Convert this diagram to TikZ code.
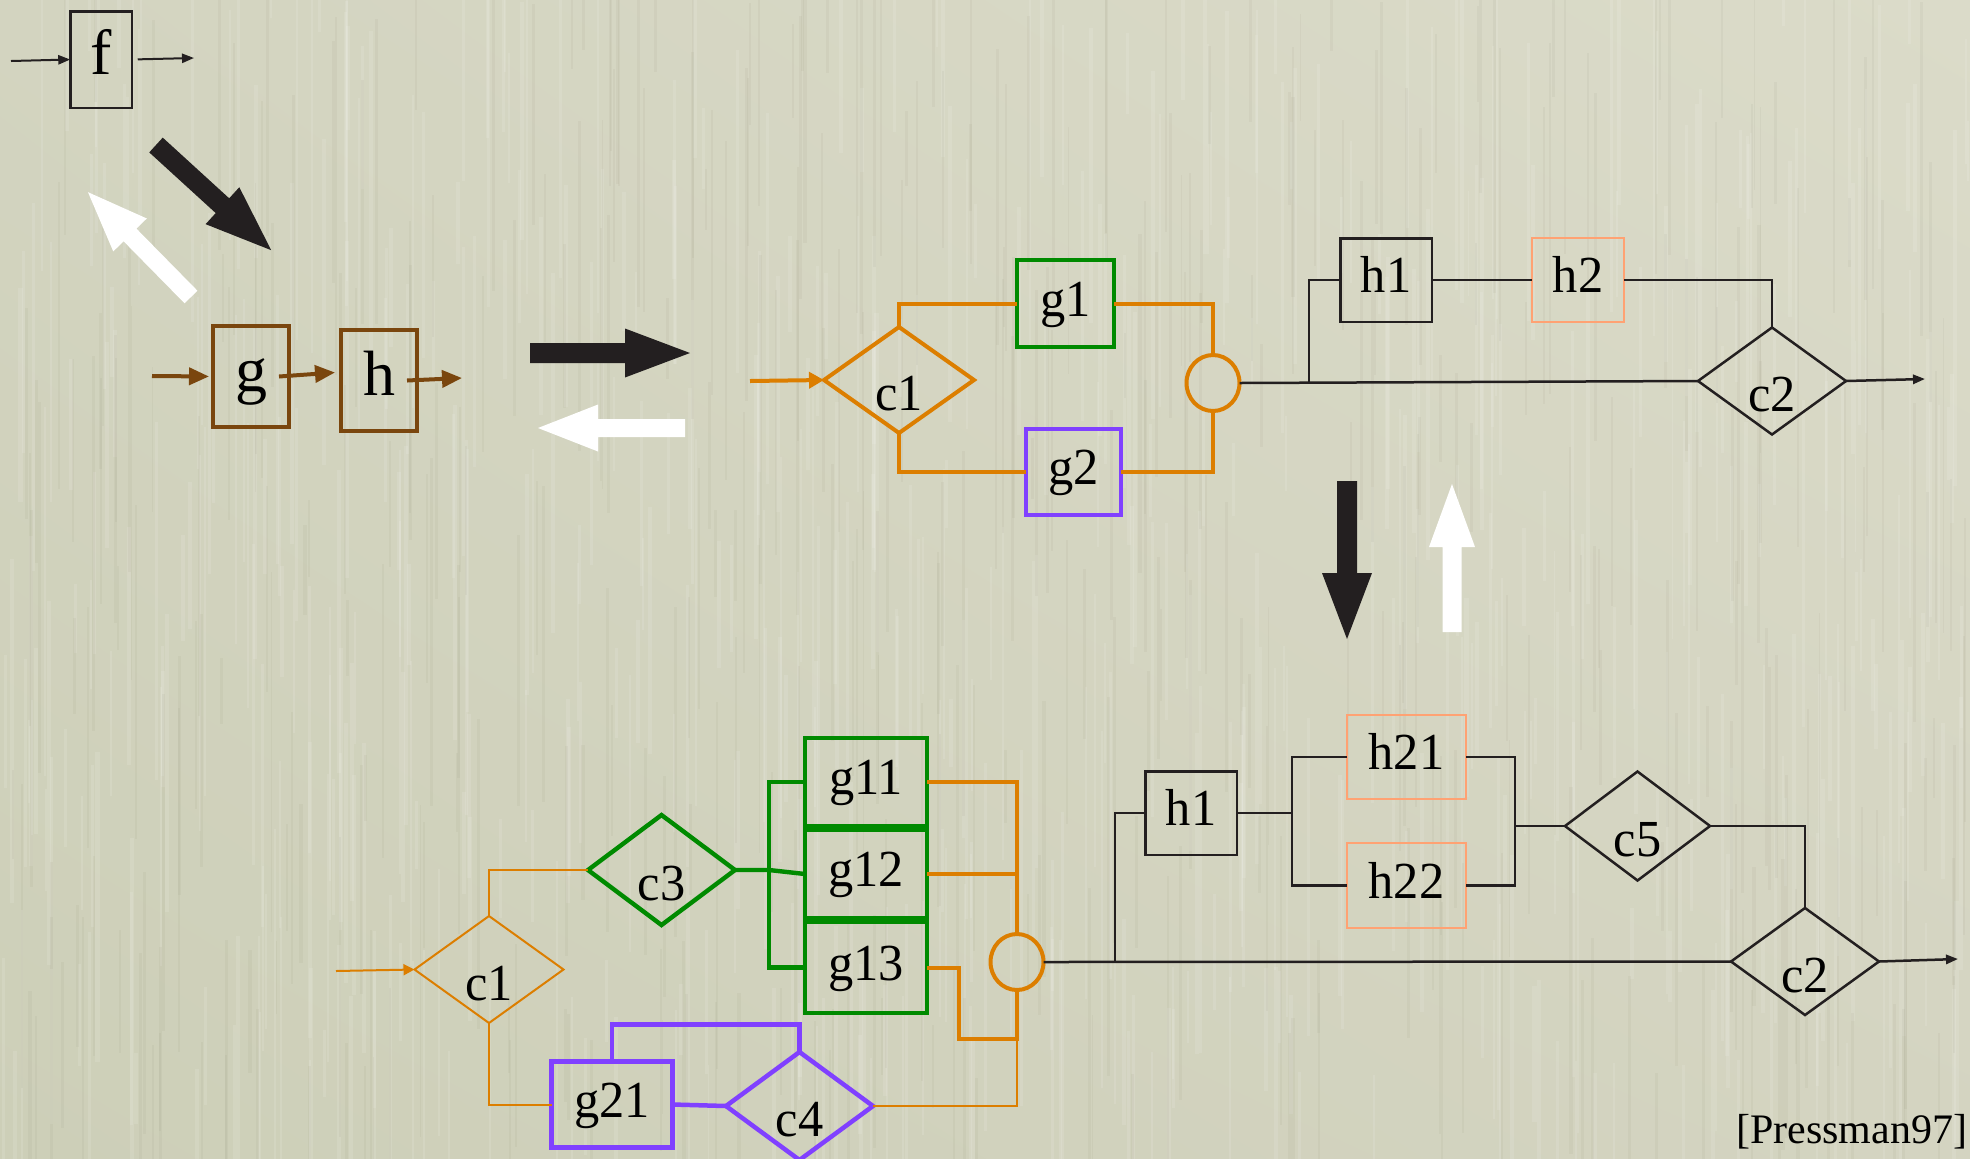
\documentclass[tikz,border=0pt]{standalone}
\usepackage{fontspec}
\setmainfont{Liberation Serif}
\newfontfamily\lblfont{Liberation Serif}[FakeStretch=0.97]
\usetikzlibrary{arrows.meta,shapes.geometric,shadings}

\definecolor{paperLL}{RGB}{205,207,184}
\definecolor{paperUL}{RGB}{211,212,192}
\definecolor{paperUR}{RGB}{219,219,201}
\definecolor{paperLR}{RGB}{212,212,193}
\definecolor{ink}{RGB}{35,31,32}
\definecolor{brn}{RGB}{122,70,14}
\definecolor{org}{RGB}{220,126,0}
\definecolor{grn}{RGB}{0,138,0}
\definecolor{prp}{RGB}{128,64,255}
\definecolor{slm}{RGB}{255,162,115}

% fat block arrow: colour, tail x, tail y, angle, length, shaft width, head width, head length
\newcommand\fatarrow[8]{%
  \begin{scope}[shift={(#2,#3)}, rotate=#4]
    \fill[#1] (0,-#6/2) -- ({#5-#8},-#6/2) -- ({#5-#8},-#7/2) -- (#5,0)
      -- ({#5-#8},#7/2) -- ({#5-#8},#6/2) -- (0,#6/2) -- cycle;
  \end{scope}}

\tikzset{
  every node/.style={inner sep=0pt, outer sep=0pt},
  bigtxt/.style={font=\fontsize{32}{32}\selectfont, text height=22.4pt, text depth=7pt},
  lbltxt/.style={font=\lblfont\fontsize{26}{26}\selectfont, text height=18.2pt, text depth=5.7pt},
  box/.style={draw, rectangle, lbltxt},
  bigbox/.style={draw, rectangle, bigtxt},
  dia/.style={draw, diamond},
  dlbl/.style={lbltxt, yshift=-9pt},
  joint/.style={draw, ellipse, minimum width=26.5pt, minimum height=28pt},
  wire/.style={ink, line width=1.25pt},
  owire/.style={org, line width=2pt},
  othin/.style={org, line width=1pt},
  gwire/.style={grn, line width=2.2pt},
  pwire/.style={prp, line width=2.25pt},
  tipblk/.style={-{Triangle[length=6pt,width=4.6pt]}},
  tipbrn/.style={-{Triangle[length=10pt,width=8.5pt]}},
  tiporg/.style={-{Triangle[length=7.5pt,width=8pt]}},
  tipothin/.style={-{Triangle[length=5.5pt,width=5.5pt]}},
}

\begin{document}
\begin{tikzpicture}[x=0.5pt, y=-0.5pt]
% ---------- textured paper ----------
\shade[lower left=paperLL, upper left=paperUL, upper right=paperUR, lower right=paperLR]
  (0,0) rectangle (1970,1158);
\useasboundingbox (0,0) rectangle (1970,1158);
\pgfmathsetseed{4242}
\begin{scope}
  \clip (0,0) rectangle (1970,1158);
  \foreach \k in {1,...,560} {
    \pgfmathsetmacro\sx{rnd*1970}
    \pgfmathsetmacro\sy{rnd*1158-80}
    \pgfmathsetmacro\sl{60+rnd*320}
    \pgfmathsetmacro\sw{0.9+rnd*1.2}
    \draw[white, opacity=0.11, line width=\sw pt] (\sx,\sy) -- (\sx,\sy+\sl);
  }
  \foreach \k in {1,...,420} {
    \pgfmathsetmacro\sx{rnd*1970}
    \pgfmathsetmacro\sy{rnd*1158-80}
    \pgfmathsetmacro\sl{60+rnd*320}
    \pgfmathsetmacro\sw{0.7+rnd*1.0}
    \draw[black!60!olive, opacity=0.045, line width=\sw pt] (\sx,\sy) -- (\sx,\sy+\sl);
  }
\end{scope}

% ---------- single module f ----------
\node[bigbox, draw=ink, line width=1.25pt, minimum width=30.75pt, minimum height=48.25pt] (f) at (101,59.5) {f};
\coordinate (fin) at (11,61);
\coordinate (fout) at (194,58);
\draw[ink, line width=1pt, tipblk] (fin) -- (f.west);
\draw[ink, line width=1pt, tipblk, shorten <=3pt] (f.east) -- (fout);

% ---------- f split into g and h ----------
\node[bigbox, draw=brn, line width=2pt, minimum width=38pt, minimum height=50.5pt] (g) at (251,376.5) {g};
\node[bigbox, draw=brn, line width=2pt, minimum width=38pt, minimum height=50.5pt] (h) at (379,380.5) {h};
\coordinate (gin) at (152,376);
\coordinate (hout) at (462,378);
\draw[brn, line width=2pt, tipbrn, shorten >=2pt] (gin) -- (g.west);
\draw[brn, line width=2pt, tipbrn] ([xshift=-5pt]g.east) -- ([shift={(-3pt,4pt)}]h.west);
\draw[brn, line width=2pt, tipbrn] ([xshift=-5pt]h.east) -- (hout);

% ---------- refinement / abstraction arrows ----------
\fatarrow{ink}{156}{145}{-42.4}{156}{20}{50}{66}
\fatarrow{white}{191}{297}{134.5}{147}{18}{47}{60}
\fatarrow{ink}{530}{353}{0}{160}{20}{49}{65}
\fatarrow{white}{685}{428}{180}{147}{18}{47}{60}
\fatarrow{ink}{1347}{481}{-90}{158}{20}{50}{66}
\fatarrow{white}{1452}{632}{90}{148}{19}{46}{63}

% ---------- second level ----------
\node[dia, draw=org, line width=2pt, minimum width=75pt, minimum height=53pt,
      label={[dlbl]center:c1}] (c1) at (899,380) {};
\node[box, draw=grn, line width=2pt, minimum width=48.5pt, minimum height=43.5pt] (g1) at (1065.5,303.5) {g1};
\node[box, draw=prp, line width=2pt, minimum width=47.5pt, minimum height=43pt] (g2) at (1073.5,472) {g2};
\node[joint, draw=org, line width=2pt] (j1) at (1213,383) {};
\node[box, draw=ink, line width=1.25pt, minimum width=45.75pt, minimum height=41.75pt] (h1) at (1386,280) {h1};
\node[box, draw=slm, line width=1.1pt, minimum width=46pt, minimum height=42pt] (h2) at (1578,280) {h2};
\node[dia, draw=ink, line width=1.25pt, minimum width=74pt, minimum height=53.5pt,
      label={[dlbl]center:c2}] (c2) at (1772,381) {};

\coordinate (c1in) at (750,381);
\draw[owire, tiporg] (c1in) -- (c1.west);
\draw[owire] (c1.north) |- (g1.west);
\draw[owire] (g1.east) -| (j1.north);
\draw[owire] (c1.south) |- (g2.west);
\draw[owire] (g2.east) -| (j1.south);

\coordinate (b1) at (1309,382.5);
\coordinate (c2out) at (1925,379);
\draw[wire] (j1.east) -- (c2.west);
\draw[wire] (b1) |- (h1.west);
\draw[wire] (h1.east) -- (h2.west);
\draw[wire] (h2.east) -| (c2.north);
\draw[wire, tipblk] (c2.east) -- (c2out);

% ---------- third level ----------
\node[dia, draw=org, line width=1pt, minimum width=74.5pt, minimum height=53.5pt,
      label={[dlbl]center:c1}] (c1b) at (489,969.5) {};
\node[dia, draw=grn, line width=2.2pt, minimum width=73.5pt, minimum height=55pt,
      label={[dlbl]center:c3}] (c3) at (661.5,870) {};
\node[box, draw=grn, line width=2.2pt, minimum width=61pt, minimum height=44pt] (g11) at (866,782) {g11};
\node[box, draw=grn, line width=2.2pt, minimum width=61pt, minimum height=44pt] (g12) at (866,874) {g12};
\node[box, draw=grn, line width=2.2pt, minimum width=61pt, minimum height=45.5pt] (g13) at (866,967.5) {g13};
\node[joint, draw=org, line width=2pt] (j2) at (1017,962) {};
\node[box, draw=prp, line width=2.25pt, minimum width=60.5pt, minimum height=43pt] (g21) at (612,1104.5) {g21};
\node[dia, draw=prp, line width=2.25pt, minimum width=73.5pt, minimum height=54pt,
      label={[dlbl]center:c4}] (c4) at (799.5,1106) {};

\coordinate (c1bin) at (336,971);
\draw[othin, tipothin] (c1bin) -- (c1b.west);
\draw[othin] (c1b.north) |- (c3.west);
\draw[othin] (c1b.south) |- (g21.west);

\coordinate (gb) at (769,870);
\draw[gwire] (c3.east) -- (gb) -- (g12.west);
\draw[gwire] (g11.west) -| (gb) |- (g13.west);

\coordinate (k1) at (959,1039);
\coordinate (k2) at (1017,1039);
\draw[owire] (g11.east) -| (j2.north);
\draw[owire] (g12.east) -- (g12.east -| j2.north);
\draw[owire] (g13.east) -| (k1) -- (k2) -- (j2.south);
\draw[othin] (c4.east) -| (k2);

\draw[pwire] (g21.east) -- (c4.west);
\draw[pwire] (g21.north) -- ++(0,-37) -| (c4.north);

\node[box, draw=ink, line width=1.25pt, minimum width=45.75pt, minimum height=41.75pt] (h1b) at (1191,813) {h1};
\node[box, draw=slm, line width=1.1pt, minimum width=59.5pt, minimum height=42pt] (h21) at (1406.5,757) {h21};
\node[box, draw=slm, line width=1.1pt, minimum width=59.5pt, minimum height=42.5pt] (h22) at (1406.5,885.5) {h22};
\node[dia, draw=ink, line width=1.25pt, minimum width=72.5pt, minimum height=54.5pt,
      label={[dlbl]center:c5}] (c5) at (1637.5,826) {};
\node[dia, draw=ink, line width=1.25pt, minimum width=74pt, minimum height=53.5pt,
      label={[dlbl]center:c2}] (c2b) at (1805,961.5) {};

\coordinate (b2) at (1115,961.8);
\coordinate (s1) at (1292,813);
\coordinate (s2) at (1515,826);
\coordinate (c2bout) at (1958,959);
\draw[wire] (j2.east) -- (c2b.west);
\draw[wire] (b2) |- (h1b.west);
\draw[wire] (h1b.east) -- (s1);
\draw[wire] (h21.west) -| (s1) |- (h22.west);
\draw[wire] (h21.east) -| (s2) |- (h22.east);
\draw[wire] (s2) -- (c5.west);
\draw[wire] (c5.east) -| (c2b.north);
\draw[wire, tipblk] (c2b.east) -- (c2bout);

% ---------- source ----------
\node[anchor=base east, font=\fontsize{21}{21}\selectfont] (cite) at (1967,1143) {[Pressman97]};
\end{tikzpicture}
\end{document}
